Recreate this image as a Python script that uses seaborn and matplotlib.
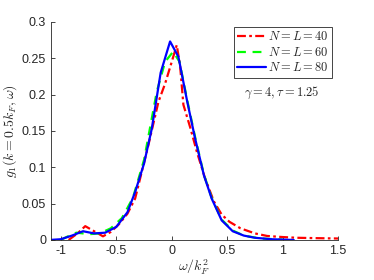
import numpy as np
import pandas as pd
import matplotlib
matplotlib.use("Agg")
import matplotlib.pyplot as plt
import seaborn as sns

# N = L = 40 (red dash-dot)
x40 = [-0.93, -0.85, -0.78, -0.7, -0.62, -0.55, -0.48, -0.4, -0.33, -0.21, -0.12, -0.06, 0.0,
       0.045, 0.075, 0.105, 0.166, 0.227, 0.3, 0.38, 0.45, 0.52, 0.62, 0.75, 0.86, 1.0, 1.13, 1.3, 1.5]
y40 = [0.0, 0.009, 0.019, 0.012, 0.005, 0.011, 0.021, 0.036, 0.057, 0.131, 0.19, 0.215, 0.245,
       0.268, 0.240, 0.186, 0.155, 0.121, 0.085, 0.053, 0.035, 0.025, 0.016, 0.009, 0.0055, 0.004, 0.003, 0.0025, 0.002]

# N = L = 60 (green dashed)
x60 = [-1.0, -0.95, -0.86, -0.74, -0.65, -0.55, -0.45, -0.35, -0.25, -0.135, -0.06, 0.013,
       0.07, 0.14, 0.21, 0.29, 0.36, 0.45, 0.55, 0.65, 0.8, 1.0]
y60 = [0.0, 0.004, 0.01, 0.008, 0.009, 0.016, 0.03, 0.058, 0.11, 0.204, 0.245, 0.259,
       0.245, 0.192, 0.142, 0.09, 0.058, 0.028, 0.013, 0.006, 0.002, 0.0005]

# N = L = 80 (blue solid)
x80 = [-1.1, -1.0, -0.9, -0.8, -0.7, -0.6, -0.5, -0.4, -0.33, -0.25, -0.18, -0.1, -0.015,
       0.06, 0.14, 0.21, 0.29, 0.36, 0.45, 0.55, 0.65, 0.75, 0.9, 1.1]
y80 = [0.0, 0.001, 0.006, 0.012, 0.009, 0.010, 0.018, 0.038, 0.066, 0.105, 0.153, 0.23, 0.273,
       0.252, 0.19, 0.14, 0.089, 0.057, 0.027, 0.012, 0.006, 0.003, 0.001, 0.0]

labels = ["$N=L=40$", "$N=L=60$", "$N=L=80$"]
xticks = [-1, -0.5, 0, 0.5, 1, 1.5]
xticklabels = ["-1", "-0.5", "0", "0.5", "1", "1.5"]
yticks = [0, 0.05, 0.1, 0.15, 0.2, 0.25, 0.3]
yticklabels = ["0", "0.05", "0.1", "0.15", "0.2", "0.25", "0.3"]

sns.set_style("ticks")
plt.rcParams["font.family"] = ["Liberation Sans", "DejaVu Sans"]
plt.rcParams["mathtext.fontset"] = "cm"
plt.rcParams["xtick.direction"] = "in"
plt.rcParams["ytick.direction"] = "in"

fig = plt.figure(figsize=(3.74, 2.80), dpi=100)
ax = fig.add_axes([0.136, 0.143, 0.768, 0.779])

sns.lineplot(x=x40, y=y40, ax=ax, color="#ff0000", lw=1.6, label=labels[0])
sns.lineplot(x=x60, y=y60, ax=ax, color="#00ff00", lw=1.6, label=labels[1])
sns.lineplot(x=x80, y=y80, ax=ax, color="#0000ff", lw=1.6, label=labels[2])
ax.lines[0].set_linestyle((0, (4, 1.5, 1.2, 1.5)))
ax.lines[1].set_linestyle((0, (4, 3)))

ax.set_xlim(-1.09, 1.5)
ax.set_ylim(0, 0.3)
ax.set_xticks(xticks)
ax.set_xticklabels(xticklabels)
ax.set_yticks(yticks)
ax.set_yticklabels(yticklabels)
ax.tick_params(labelsize=9, length=3, width=0.6, colors="#262626")
for s in ["left", "bottom"]:
    ax.spines[s].set_color("#262626")
    ax.spines[s].set_linewidth(0.6)
sns.despine(ax=ax)

ax.set_xlabel(r"$\omega/k_F^2$", fontsize=10, labelpad=1)
ax.set_ylabel(r"$g_1(k=0.5k_F,\omega)$", fontsize=10, labelpad=2)

leg = ax.legend(loc="upper right", bbox_to_anchor=(0.98, 0.975), fontsize=9,
                fancybox=False, edgecolor="#262626", framealpha=1,
                handlelength=2.3, handletextpad=0.2, borderpad=0.25,
                labelspacing=0.2, borderaxespad=0)
leg.get_frame().set_linewidth(0.6)

ax.text(0.805, 0.672, r"$\gamma=4,\tau=1.25$", transform=ax.transAxes,
        fontsize=9, ha="center", va="center")

fig.savefig("out.png", dpi=100)
